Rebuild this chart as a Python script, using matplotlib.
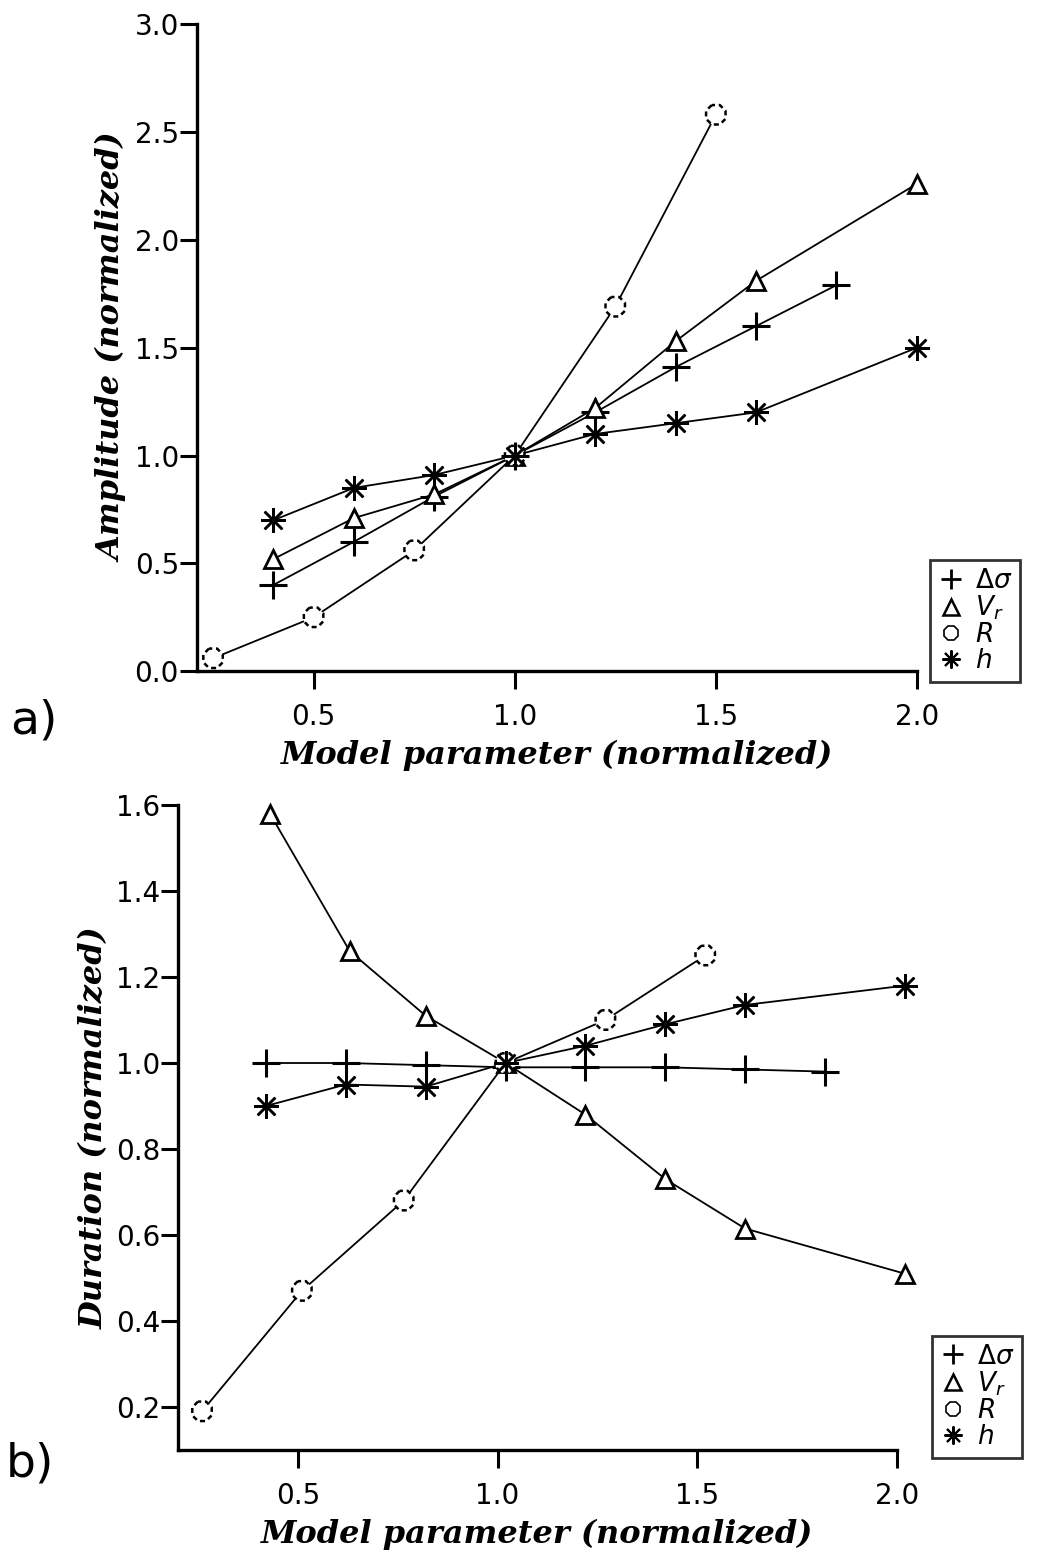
import matplotlib.pyplot as plt
from matplotlib.lines import Line2D

# --- amplitude panel (a) ---
amp_x_ds = [0.4, 0.6, 0.8, 1.0, 1.2, 1.4, 1.6, 1.8]
amp_ds = [0.40, 0.60, 0.81, 1.00, 1.20, 1.41, 1.60, 1.79]
amp_x_vr = [0.4, 0.6, 0.8, 1.0, 1.2, 1.4, 1.6, 2.0]
amp_vr = [0.52, 0.71, 0.82, 1.00, 1.22, 1.53, 1.81, 2.26]
amp_x_r = [0.25, 0.5, 0.75, 1.0, 1.25, 1.5]
amp_r = [0.06, 0.25, 0.56, 1.00, 1.69, 2.58]
amp_x_h = [0.4, 0.6, 0.8, 1.0, 1.2, 1.4, 1.6, 2.0]
amp_h = [0.70, 0.85, 0.91, 1.00, 1.10, 1.15, 1.20, 1.50]

# --- duration panel (b) ---
dur_x_ds = [0.42, 0.62, 0.82, 1.02, 1.22, 1.42, 1.62, 1.82]
dur_ds = [1.00, 1.00, 0.995, 0.99, 0.99, 0.99, 0.985, 0.98]
dur_x_vr = [0.43, 0.63, 0.82, 1.02, 1.22, 1.42, 1.62, 2.02]
dur_vr = [1.58, 1.26, 1.11, 1.00, 0.88, 0.73, 0.615, 0.51]
dur_x_r = [0.26, 0.51, 0.765, 1.02, 1.27, 1.52]
dur_r = [0.19, 0.47, 0.68, 1.00, 1.10, 1.25]
dur_x_h = [0.42, 0.62, 0.82, 1.02, 1.22, 1.42, 1.62, 2.02]
dur_h = [0.90, 0.95, 0.945, 1.00, 1.04, 1.09, 1.135, 1.18]

labels = [r'$\Delta\sigma$', r'$V_r$', r'$R$', r'$h$']
tick_font = 'DejaVu Sans'
label_font = dict(family='DejaVu Serif', style='italic', weight='bold', size=23)

ASTER = (8, 2, 0)


def draw_series(ax, xs, ys):
    for x, y in zip(xs, ys):
        ax.plot(x, y, color='black', lw=1.3, zorder=2, clip_on=False)
    (x_ds, x_vr, x_r, x_h), (y_ds, y_vr, y_r, y_h) = xs, ys
    ax.plot(x_ds, y_ds, ls='none', marker='+', ms=20, mew=2.2, color='black',
            zorder=3, clip_on=False)
    ax.plot(x_vr, y_vr, ls='none', marker='^', ms=13, mfc='white', mec='black',
            mew=2, zorder=3, clip_on=False)
    ax.scatter(x_r, y_r, s=230, marker='8', facecolor='white', edgecolor='black',
               linewidths=1.8, linestyles=(0, (2, 1.5)), zorder=3, clip_on=False)
    ax.plot(x_h, y_h, ls='none', marker=ASTER, ms=18, mew=1.8, color='black',
            zorder=3, clip_on=False)


def style_axes(ax, xlim, ylim, yticks):
    ax.set_xlim(*xlim)
    ax.set_ylim(*ylim)
    ax.spines['top'].set_visible(False)
    ax.spines['right'].set_visible(False)
    ax.spines['left'].set_linewidth(2.4)
    ax.spines['bottom'].set_linewidth(2.4)
    ax.set_xticks([0.5, 1.0, 1.5, 2.0])
    ax.set_xticklabels(['0.5', '1.0', '1.5', '2.0'])
    ax.set_yticks(yticks)
    ax.set_yticklabels(['{:.1f}'.format(v) for v in yticks])
    ax.tick_params(axis='x', direction='out', length=13, width=2.2, pad=10, labelsize=20)
    ax.tick_params(axis='y', direction='out', length=12, width=2.2, pad=1, labelsize=20)
    for t in ax.get_xticklabels() + ax.get_yticklabels():
        t.set_family(tick_font)
    ax.set_xlabel('Model parameter (normalized)', fontdict=label_font, labelpad=6)


def add_legend(ax, bbox):
    handles = [
        Line2D([], [], ls='none', marker='+', ms=15, mew=2, color='black'),
        Line2D([], [], ls='none', marker='^', ms=11, mfc='white', mec='black', mew=1.8),
        Line2D([], [], ls='none', marker='8', ms=11, mfc='white', mec='black', mew=1.2),
        Line2D([], [], ls='none', marker=ASTER, ms=13, mew=1.5, color='black'),
    ]
    leg = ax.legend(handles, labels, loc='lower left', bbox_to_anchor=bbox,
                    bbox_transform=ax.figure.transFigure, fontsize=19,
                    frameon=True, fancybox=False, handlelength=1.0, handletextpad=0.4,
                    labelspacing=0.0, borderpad=0.3, borderaxespad=0)
    leg.get_frame().set_edgecolor('black')
    leg.get_frame().set_linewidth(2)


fig = plt.figure(figsize=(10.51, 15.61), dpi=100)

ax1 = fig.add_axes([0.1874, 0.570, 0.685, 0.4145])
draw_series(ax1, [amp_x_ds, amp_x_vr, amp_x_r, amp_x_h], [amp_ds, amp_vr, amp_r, amp_h])
style_axes(ax1, (0.21, 2.0), (0.0, 3.0), [0.0, 0.5, 1.0, 1.5, 2.0, 2.5, 3.0])
ax1.set_ylabel('Amplitude (normalized)', fontdict=label_font, labelpad=4)
add_legend(ax1, (0.885, 0.563))
fig.text(0.01, 0.538, 'a)', fontsize=34, family=tick_font, va='center')

ax2 = fig.add_axes([0.1694, 0.0711, 0.684, 0.4132])
draw_series(ax2, [dur_x_ds, dur_x_vr, dur_x_r, dur_x_h], [dur_ds, dur_vr, dur_r, dur_h])
style_axes(ax2, (0.2, 2.0), (0.1, 1.6), [0.2, 0.4, 0.6, 0.8, 1.0, 1.2, 1.4, 1.6])
ax2.set_ylabel('Duration (normalized)', fontdict=label_font, labelpad=4)
add_legend(ax2, (0.887, 0.066))
fig.text(0.005, 0.062, 'b)', fontsize=34, family=tick_font, va='center')

fig.savefig('out.png', dpi=100, facecolor='white')
